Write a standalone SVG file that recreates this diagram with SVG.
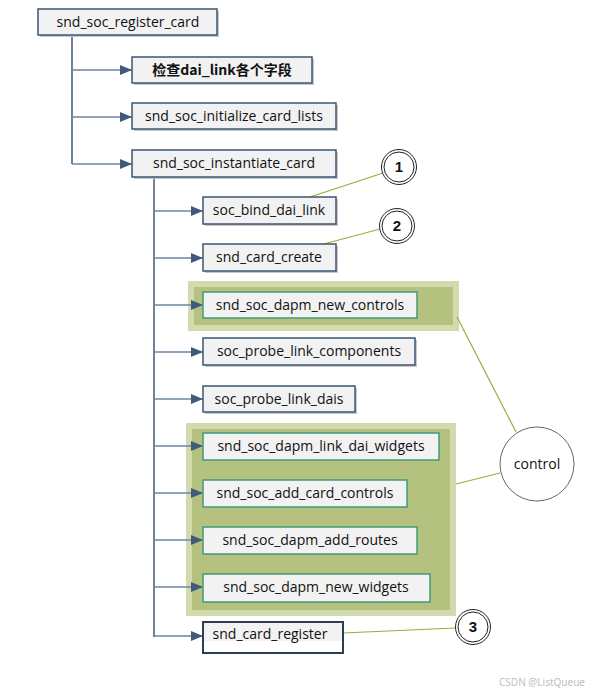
<svg xmlns="http://www.w3.org/2000/svg" width="590" height="693" viewBox="0 0 590 693">
<style>
.box{fill:#f2f2f2;stroke:#3b5573;stroke-width:1.5}
.gbox{fill:#f2f2f2;stroke:#3f9a78;stroke-width:1.5}
.sh{fill:#c8c8c8}
.t{font-family:"Open Sans","DejaVu Sans",sans-serif;font-size:14px;fill:#111;text-anchor:middle}
.tb{font-family:"Noto Sans CJK SC","Noto Sans",sans-serif;font-size:14px;font-weight:bold;fill:#111;text-anchor:middle}
.num{font-family:"Liberation Sans",Arial,sans-serif;font-size:15px;font-weight:bold;fill:#111;text-anchor:middle}
.ln{stroke:#3f5a7a;stroke-width:1.5;fill:none}
.lh{stroke:#6f84a0;stroke-width:1.5;fill:none}
.ol{stroke:#9aab3e;stroke-width:1.2;fill:none}
.hl{fill:#b5c27f;stroke:#d2dbae;stroke-width:6}
</style>
<defs>
<marker id="ah" markerWidth="12" markerHeight="10" refX="12" refY="5" orient="auto" markerUnits="userSpaceOnUse">
<path d="M0,0 L12,5 L0,10 Z" fill="#3f5a7a"/>
</marker>
</defs>
<rect width="590" height="693" fill="#fff"/>
<g id="highlights">
<rect class="hl" x="191" y="284" width="265" height="44"/>
<rect class="hl" x="189" y="426" width="264" height="187"/>
</g>
<g id="connectors">
<path class="ln" d="M72,35 V164"/>
<path class="lh" d="M72,70 H132" marker-end="url(#ah)"/>
<path class="lh" d="M72,117 H132" marker-end="url(#ah)"/>
<path class="lh" d="M72,164 H132" marker-end="url(#ah)"/>
<path class="ln" d="M154,177 V637"/>
<path class="lh" d="M154,211 H203" marker-end="url(#ah)"/>
<path class="lh" d="M154,258 H203" marker-end="url(#ah)"/>
<path class="lh" d="M154,305 H203" marker-end="url(#ah)"/>
<path class="lh" d="M154,352 H203" marker-end="url(#ah)"/>
<path class="lh" d="M154,399 H203" marker-end="url(#ah)"/>
<path class="lh" d="M154,446 H203" marker-end="url(#ah)"/>
<path class="lh" d="M154,493 H203" marker-end="url(#ah)"/>
<path class="lh" d="M154,540 H203" marker-end="url(#ah)"/>
<path class="lh" d="M154,587 H203" marker-end="url(#ah)"/>
<path class="lh" d="M154,636 H203" marker-end="url(#ah)"/>
<path class="ol" d="M310,197 L383,173"/>
<path class="ol" d="M320,245 L380,229"/>
<path class="ol" d="M343,633 L455,628"/>
<path class="ol" d="M457,317 L516,432"/>
<path class="ol" d="M456,484 L500,473"/>
</g>
<g id="n_register_card">
<rect class="sh" x="40" y="11" width="179" height="26"/>
<rect class="box" x="38" y="9" width="179" height="26"/>
<text class="t" x="128" y="27">snd_soc_register_card</text>
</g>
<g id="n_check">
<rect class="sh" x="134" y="59" width="180" height="26"/>
<rect class="box" x="132" y="57" width="180" height="26"/>
<text class="tb" x="222" y="75">检查dai_link各个字段</text>
</g>
<g id="n_init_lists">
<rect class="sh" x="134" y="105" width="204" height="26"/>
<rect class="box" x="132" y="103" width="204" height="26"/>
<text class="t" x="234" y="121">snd_soc_initialize_card_lists</text>
</g>
<g id="n_instantiate">
<rect class="sh" x="134" y="152" width="204" height="27"/>
<rect class="box" x="132" y="150" width="204" height="27"/>
<text class="t" x="234" y="168">snd_soc_instantiate_card</text>
</g>
<g id="n_bind">
<rect class="sh" x="205" y="199" width="133" height="27"/>
<rect class="box" x="203" y="197" width="133" height="27"/>
<text class="t" x="269" y="215">soc_bind_dai_link</text>
</g>
<g id="n_card_create">
<rect class="sh" x="205" y="246" width="133" height="27"/>
<rect class="box" x="203" y="244" width="133" height="27"/>
<text class="t" x="269" y="262">snd_card_create</text>
</g>
<g id="n_new_controls">
<rect class="gbox" x="203" y="292" width="214" height="26"/>
<text class="t" x="310" y="310">snd_soc_dapm_new_controls</text>
</g>
<g id="n_probe_components">
<rect class="sh" x="205" y="340" width="212" height="27"/>
<rect class="box" x="203" y="338" width="212" height="27"/>
<text class="t" x="309" y="356">soc_probe_link_components</text>
</g>
<g id="n_probe_dais">
<rect class="sh" x="205" y="388" width="152" height="26"/>
<rect class="box" x="203" y="386" width="152" height="26"/>
<text class="t" x="279" y="404">soc_probe_link_dais</text>
</g>
<g id="n_link_dai_widgets">
<rect class="gbox" x="203" y="433" width="236" height="27"/>
<text class="t" x="321" y="451">snd_soc_dapm_link_dai_widgets</text>
</g>
<g id="n_add_card_controls">
<rect class="gbox" x="203" y="480" width="204" height="27"/>
<text class="t" x="305" y="498">snd_soc_add_card_controls</text>
</g>
<g id="n_add_routes">
<rect class="gbox" x="203" y="527" width="214" height="27"/>
<text class="t" x="310" y="545">snd_soc_dapm_add_routes</text>
</g>
<g id="n_new_widgets">
<rect class="gbox" x="203" y="574" width="227" height="28"/>
<text class="t" x="316" y="592">snd_soc_dapm_new_widgets</text>
</g>
<g id="n_card_register">
<rect x="203" y="622" width="140" height="31" fill="#fff" stroke="#2f3e4e" stroke-width="2"/>
<rect x="204" y="623" width="138" height="18" fill="#f2f2f2"/>
<text class="t" x="270" y="639">snd_card_register</text>
</g>
<g id="c1">
<circle cx="399" cy="167" r="17.5" fill="#fff" stroke="#222" stroke-width="1"/>
<circle cx="399" cy="167" r="15" fill="none" stroke="#222" stroke-width="1"/>
<text class="num" x="399" y="172">1</text>
</g>
<g id="c2">
<circle cx="397" cy="226" r="17.5" fill="#fff" stroke="#222" stroke-width="1"/>
<circle cx="397" cy="226" r="15" fill="none" stroke="#222" stroke-width="1"/>
<text class="num" x="397" y="231">2</text>
</g>
<g id="c3">
<circle cx="473" cy="627" r="17.5" fill="#fff" stroke="#222" stroke-width="1"/>
<circle cx="473" cy="627" r="15" fill="none" stroke="#222" stroke-width="1"/>
<text class="num" x="473" y="632">3</text>
</g>
<g id="c_control">
<circle cx="537" cy="464" r="37" fill="#fff" stroke="#666" stroke-width="1"/>
<text class="t" x="537" y="469">control</text>
</g>
<text x="585" y="686" font-family="'Noto Sans','DejaVu Sans',sans-serif" font-size="10" fill="#c0c0c0" text-anchor="end">CSDN @ListQueue</text>
</svg>
